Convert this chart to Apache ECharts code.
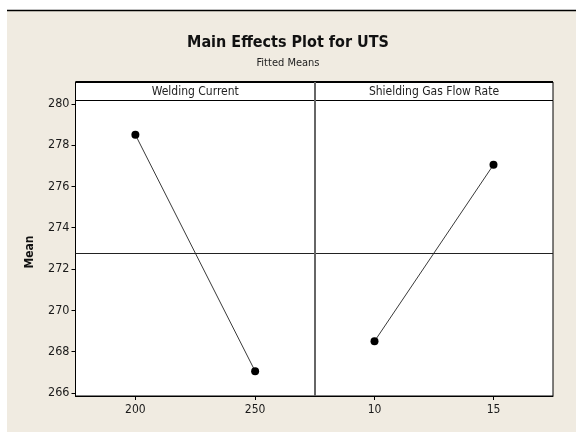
<!DOCTYPE html>
<html>
<head>
<meta charset="utf-8">
<script src="https://cdn.jsdelivr.net/npm/echarts@6/dist/echarts.min.js"></script>
<style>
  html, body { margin: 0; padding: 0; background: #ffffff; }
  #chart { width: 576px; height: 432px; }
</style>
</head>
<body>
<div id="chart"></div>
<script>
// Factor panels and their fitted means
const panelTitles = ['Welding Current', 'Shielding Gas Flow Rate'];
const weldingLevels = [200, 250];
const weldingMeans = [278.5, 267.05];
const gasLevels = [10, 15];
const gasMeans = [268.5, 277.05];
const yTicks = [266, 268, 270, 272, 274, 276, 278, 280];

const allMeans = weldingMeans.concat(gasMeans);
const grandMean = allMeans.reduce((a, b) => a + b, 0) / allMeans.length;

const FONT = 'DejaVu Sans Condensed';
const chart = echarts.init(document.getElementById('chart'), null, { renderer: 'canvas' });

const L = 75.5, MID = 315, R = 553, HEAD_TOP = 82, PLOT_TOP = 100.5, PLOT_BOTTOM = 396;

function xAxisFor(idx, min, max, ticks) {
  return {
    type: 'value', gridIndex: idx, min: min, max: max,
    axisLine: { show: true, lineStyle: { color: '#000', width: 1 } },
    axisTick: { show: true, length: 4, customValues: ticks, lineStyle: { color: '#000' } },
    axisLabel: { customValues: ticks, color: '#1a1a1a', fontFamily: FONT, fontSize: 12, margin: 8 },
    splitLine: { show: false }
  };
}
function yAxisFor(idx, showLabels) {
  return {
    type: 'value', gridIndex: idx, min: 265.85, max: 280.16,
    axisLine: { show: showLabels, lineStyle: { color: '#000', width: 1 } },
    axisTick: { show: showLabels, length: 4, customValues: yTicks, lineStyle: { color: '#000' } },
    axisLabel: { show: showLabels, customValues: yTicks, color: '#1a1a1a', fontFamily: FONT, fontSize: 12.5, margin: 6 },
    splitLine: { show: false }
  };
}
function meanSeries(idx, levels, means) {
  return {
    type: 'line', xAxisIndex: idx, yAxisIndex: idx,
    data: levels.map((x, i) => [x, means[i]]),
    symbol: 'circle', symbolSize: 8,
    itemStyle: { color: '#000' },
    lineStyle: { color: '#3a3a3a', width: 1 },
    animation: false,
    markLine: {
      silent: true, symbol: 'none', label: { show: false },
      lineStyle: { color: '#222', width: 1, type: 'solid' },
      data: [{ yAxis: grandMean }],
      animation: false
    }
  };
}

chart.setOption({
  backgroundColor: '#ffffff',
  animation: false,
  title: [
    { text: 'Main Effects Plot for UTS', left: 'center', top: 30,
      textStyle: { fontFamily: FONT, fontWeight: 'bold', fontSize: 16, color: '#111' } },
    { text: 'Fitted Means', left: 'center', top: 53,
      textStyle: { fontFamily: FONT, fontWeight: 'normal', fontSize: 11, color: '#222' } }
  ],
  grid: [
    { left: L, right: 576 - MID, top: PLOT_TOP, bottom: 432 - PLOT_BOTTOM, show: true,
      backgroundColor: '#fff', borderColor: '#000', borderWidth: 1 },
    { left: MID, right: 576 - R, top: PLOT_TOP, bottom: 432 - PLOT_BOTTOM, show: true,
      backgroundColor: '#fff', borderColor: '#000', borderWidth: 1 }
  ],
  xAxis: [
    xAxisFor(0, 175, 275, weldingLevels),
    xAxisFor(1, 7.5, 17.5, gasLevels)
  ],
  yAxis: [yAxisFor(0, true), yAxisFor(1, false)],
  series: [
    meanSeries(0, weldingLevels, weldingMeans),
    meanSeries(1, gasLevels, gasMeans)
  ],
  graphic: [
    // page frame
    { type: 'rect', z: -10, shape: { x: 7, y: 10.5, width: 569, height: 422 },
      style: { fill: '#f0ebe1' } },
    { type: 'line', z: -5, shape: { x1: 7, y1: 10.5, x2: 576, y2: 10.5 },
      style: { stroke: '#000', lineWidth: 1.5 } },
    // panel header strip
    { type: 'rect', shape: { x: L, y: HEAD_TOP, width: R - L, height: PLOT_TOP - HEAD_TOP },
      style: { fill: '#fff', stroke: '#000', lineWidth: 1 } },
    { type: 'line', shape: { x1: L, y1: HEAD_TOP, x2: R, y2: HEAD_TOP },
      style: { stroke: '#000', lineWidth: 2 } },
    { type: 'text', x: (L + MID) / 2, y: (HEAD_TOP + PLOT_TOP) / 2 + 0.5,
      style: { text: panelTitles[0], fill: '#222', font: '12px "' + FONT + '"', align: 'center', verticalAlign: 'middle' } },
    { type: 'text', x: (MID + R) / 2, y: (HEAD_TOP + PLOT_TOP) / 2 + 0.5,
      style: { text: panelTitles[1], fill: '#222', font: '12px "' + FONT + '"', align: 'center', verticalAlign: 'middle' } },
    // divider between panels
    { type: 'line', z: 10, shape: { x1: MID, y1: HEAD_TOP, x2: MID, y2: PLOT_BOTTOM },
      style: { stroke: '#666', lineWidth: 2 } },
    // y axis name
    { type: 'text', x: 30, y: 252, rotation: Math.PI / 2,
      style: { text: 'Mean', fill: '#111', font: 'bold 12px "' + FONT + '"', align: 'center', verticalAlign: 'middle' } }
  ]
});
</script>
</body>
</html>
